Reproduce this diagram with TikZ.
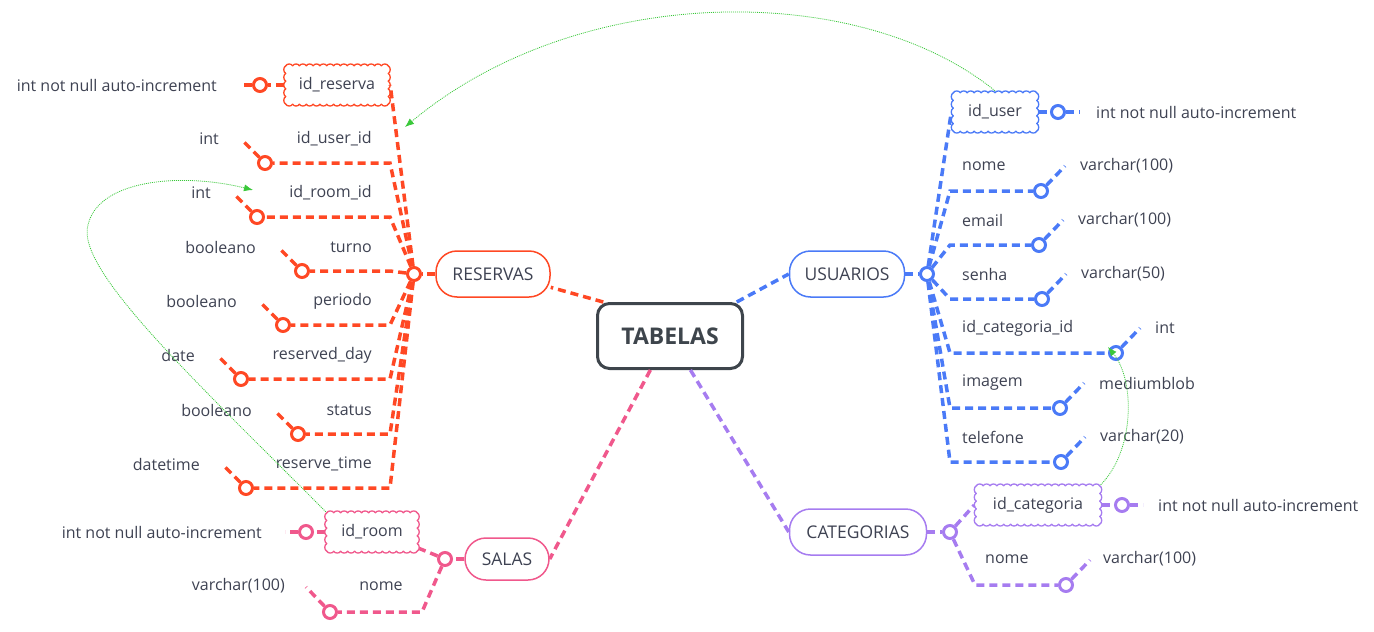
\documentclass[tikz,border=0pt]{standalone}
\usepackage{fontspec}
\setmainfont{Open Sans}
\usetikzlibrary{arrows.meta}
\definecolor{cRed}{RGB}{255,72,36}
\definecolor{cBlue}{RGB}{74,122,247}
\definecolor{cPurple}{RGB}{166,124,240}
\definecolor{cPink}{RGB}{240,88,140}
\definecolor{cDark}{RGB}{62,69,76}
\definecolor{cText}{RGB}{62,66,82}
\definecolor{cGreen}{RGB}{58,200,58}
% scalloped border round a node: #1 node name, #2 colour
\newcommand{\scallopbox}[2]{%
  \path (#1.south west); \pgfgetlastxy{\scXa}{\scYa}
  \path (#1.north east); \pgfgetlastxy{\scXb}{\scYb}
  \pgfmathsetmacro\scW{\scXb-\scXa}
  \pgfmathsetmacro\scH{\scYb-\scYa}
  \pgfmathtruncatemacro\scNx{round(\scW/7)}
  \pgfmathtruncatemacro\scNy{round(\scH/7)}
  \pgfmathsetmacro\scDx{\scW/\scNx}
  \pgfmathsetmacro\scDy{\scH/\scNy}
  \draw[#2, line width=1.3pt, line join=round]
    (\scXa,\scYb)
    \foreach \k in {1,...,\scNx}{ to[bend left=65] ++(\scDx pt,0pt) }
    \foreach \k in {1,...,\scNy}{ to[bend left=65] ++(0pt,-\scDy pt) }
    \foreach \k in {1,...,\scNx}{ to[bend left=65] ++(-\scDx pt,0pt) }
    \foreach \k in {1,...,\scNy}{ to[bend left=65] ++(0pt,\scDy pt) };
}
\begin{document}
\begin{tikzpicture}[x=1pt,y=-1pt,
  every node/.style={font=\fontsize{16}{18}\selectfont, text=cText},
  conn/.style={line width=3.5pt, dash pattern=on 8pt off 5pt},
  hole/.style={circle, draw, fill=white, line width=3pt, minimum size=13pt, inner sep=0pt},
  pill/.style={draw, fill=white, line width=1.5pt, rounded corners=21pt, minimum height=46pt, inner sep=0pt, font=\fontsize{17.5}{20}\selectfont},
  cloudbox/.style={fill=white, minimum height=38pt, inner sep=0pt},
  lbl/.style={inner sep=0pt},
  rel/.style={cGreen, line width=0.8pt, dash pattern=on 1pt off 1pt, -{Latex[length=9pt,width=7pt]}},
]
\useasboundingbox (0,0) rectangle (1374,632);

% ---------- centre ----------
\node[draw=cDark, line width=3pt, rounded corners=12pt, minimum width=145pt, minimum height=65pt, font=\fontsize{23}{26}\selectfont\bfseries, text=cDark] (tab) at (670,336) {TABELAS};

% ---------- RESERVAS ----------
\node[pill, draw=cRed, minimum width=114pt] (res) at (493,274) {RESERVAS};
\node[hole, draw=cRed] (hubR) at (414,274) {};
\node[cloudbox, minimum width=102pt] (idres) at (337,85) {id\_reserva};
\scallopbox{idres}{cRed}
\node[hole, draw=cRed] (hR0) at (260,85) {};
\coordinate (sR0) at (240,85);
\node[lbl, anchor=east] (tR0) at (217,85) {int not null auto-increment};
\foreach \i/\nm/\tp/\y/\cx in {1/id\_user\_id/int/139/265, 2/id\_room\_id/int/193/257, 3/turno/booleano/247/302, 4/periodo/booleano/301/283, 5/reserved\_day/date/355/241, 6/status/booleano/410/298, 7/reserve\_time/datetime/464/246}{
  \node[lbl, anchor=east] (fR\i) at (372,\y) {\nm};
  \node[hole, draw=cRed] (hR\i) at (\cx,\y+24) {};
  \coordinate (kR\i) at (390,\y+24);
  \coordinate (dR\i) at (\cx-24,\y);
  \node[lbl, anchor=east] (tR\i) at (\cx-46,\y) {\tp};
  \draw[conn, cRed] (hubR) -- (kR\i) -- (hR\i);
  \draw[conn, cRed] (hR\i) -- (dR\i);
}
\draw[conn, cRed] (hubR) -- ([xshift=2pt]idres.east);
\draw[conn, cRed] ([xshift=-2pt]idres.west) -- (hR0);
\draw[conn, cRed] (hR0) -- (sR0);
\draw[conn, cRed] (res.west) -- (hubR);

% ---------- USUARIOS ----------
\node[pill, draw=cBlue, minimum width=115pt] (usu) at (847,274) {USUARIOS};
\node[hole, draw=cBlue] (hubU) at (927,274) {};
\node[cloudbox, minimum width=83pt] (iduser) at (995,112) {id\_user};
\scallopbox{iduser}{cBlue}
\node[hole, draw=cBlue] (hU0) at (1058,112) {};
\coordinate (sU0) at (1080,112);
\node[lbl, anchor=west] (tU0) at (1096,112) {int not null auto-increment};
\foreach \i/\nm/\tp/\y/\cx in {1/nome/varchar(100)/166/1041, 2/email/varchar(100)/220/1039, 3/senha/varchar(50)/274/1042, 4/id\_categoria\_id/int/328/1116, 5/imagem/mediumblob/383/1060, 6/telefone/varchar(20)/437/1061}{
  \node[lbl, anchor=west] (fU\i) at (962,\y) {\nm};
  \node[hole, draw=cBlue] (hU\i) at (\cx,\y+25) {};
  \coordinate (kU\i) at (950,\y+25);
  \coordinate (dU\i) at (\cx+24,\y);
  \node[lbl, anchor=west] (tU\i) at (\cx+39,\y) {\tp};
  \draw[conn, cBlue] (hubU) -- (kU\i) -- (hU\i);
  \draw[conn, cBlue] (hU\i) -- (dU\i);
}
\draw[conn, cBlue] (hubU) -- ([xshift=-2pt]iduser.west);
\draw[conn, cBlue] ([xshift=2pt]iduser.east) -- (hU0);
\draw[conn, cBlue] (hU0) -- (sU0);
\draw[conn, cBlue] (usu.east) -- (hubU);

% ---------- CATEGORIAS ----------
\node[pill, draw=cPurple, minimum width=137pt] (cat) at (858,532) {CATEGORIAS};
\node[hole, draw=cPurple] (hubC) at (950,532) {};
\node[cloudbox, minimum width=123pt] (idcat) at (1038,505) {id\_categoria};
\scallopbox{idcat}{cPurple}
\node[hole, draw=cPurple] (hC0) at (1122,505) {};
\coordinate (sC0) at (1143,505);
\node[lbl, anchor=west] (tC0) at (1158,505) {int not null auto-increment};
\node[lbl, anchor=west] (fC1) at (985,559) {nome};
\coordinate (kC1) at (975,585);
\node[hole, draw=cPurple] (hC1) at (1066,585) {};
\coordinate (dC1) at (1090,560);
\node[lbl, anchor=west] (tC1) at (1103,559) {varchar(100)};
\draw[conn, cPurple] (hubC) -- ([xshift=-2pt]idcat.west);
\draw[conn, cPurple] ([xshift=2pt]idcat.east) -- (hC0);
\draw[conn, cPurple] (hC0) -- (sC0);
\draw[conn, cPurple] (hubC) -- (kC1) -- (hC1);
\draw[conn, cPurple] (hC1) -- (dC1);
\draw[conn, cPurple] (cat.east) -- (hubC);

% ---------- SALAS ----------
\node[pill, draw=cPink, minimum width=84pt, minimum height=42pt] (sal) at (507,559) {SALAS};
\node[hole, draw=cPink] (hubS) at (445,559) {};
\node[cloudbox, minimum width=90pt] (idroom) at (372,532) {id\_room};
\scallopbox{idroom}{cPink}
\node[hole, draw=cPink] (hS0) at (306,532) {};
\coordinate (sS0) at (285,532);
\node[lbl, anchor=east] (tS0) at (262,532) {int not null auto-increment};
\node[lbl] (fS1) at (381,586) {nome};
\coordinate (kS1) at (422,612);
\node[hole, draw=cPink] (hS1) at (330,612) {};
\coordinate (dS1) at (306,587);
\node[lbl, anchor=east] (tS1) at (285,586) {varchar(100)};
\draw[conn, cPink] (hubS) -- ([xshift=2pt]idroom.-20);
\draw[conn, cPink] ([xshift=-2pt]idroom.west) -- (hS0);
\draw[conn, cPink] (hS0) -- (sS0);
\draw[conn, cPink] (hubS) -- (kS1) -- (hS1);
\draw[conn, cPink] (hS1) -- (dS1);
\draw[conn, cPink] (sal.west) -- (hubS);

% ---------- centre connectors ----------
\draw[conn, cRed] (tab.153) -- (res.-13);
\draw[conn, cBlue] (tab.27) -- (usu.west);
\draw[conn, cPink] (tab.-120) -- (sal.east);
\draw[conn, cPurple] (tab.-59) -- (cat.west);

% ---------- relations ----------
\coordinate (arrU) at (405,127);
\coordinate (arrS) at (253,190);
\coordinate (viaS) at (88,225);
\coordinate (arrC) at (1108,347);
\draw[rel] ([yshift=2pt]iduser.north) .. controls (860,-19) and (580,-19) .. (arrU);
\draw[rel] ([shift={(-1pt,1pt)}]idroom.north west) .. controls (200,385) and (75,270) .. (viaS) .. controls (98,180) and (180,172) .. (arrS);
\draw[rel] ([shift={(1pt,1pt)}]idcat.north east) .. controls (1135,450) and (1135,380) .. (arrC);
\end{tikzpicture}
\end{document}
